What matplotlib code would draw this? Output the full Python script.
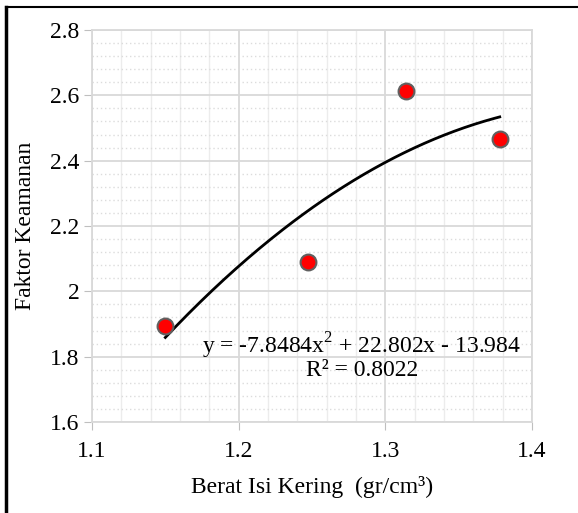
import matplotlib.pyplot as plt
import numpy as np
from matplotlib.lines import Line2D
from matplotlib.ticker import MultipleLocator

plt.rcParams['font.family'] = ['Liberation Serif', 'DejaVu Serif']

# dry unit weight vs safety factor
berat_isi = [1.150, 1.247, 1.314, 1.378]
faktor = [1.895, 2.090, 2.614, 2.466]

# polynomial trendline coefficients (2nd order)
a, b, c = -7.8484, 22.802, -13.984
r2 = 0.8022

fig = plt.figure(figsize=(5.78, 5.13), dpi=100)
ax = fig.add_axes([92 / 578, 1 - 422 / 513, 440 / 578, 392 / 513])

ax.set_xlim(1.1, 1.4)
ax.set_ylim(1.6, 2.8)
ax.xaxis.set_major_locator(MultipleLocator(0.1))
ax.xaxis.set_minor_locator(MultipleLocator(0.02))
ax.yaxis.set_major_locator(MultipleLocator(0.2))
ax.yaxis.set_minor_locator(MultipleLocator(0.04))
ax.set_xticklabels([], minor=True)

ax.grid(which='major', color='#d9d9d9', lw=1.3, zorder=0)
ax.grid(which='minor', axis='x', color='#ececec', lw=1.0, zorder=0)
ax.grid(which='minor', axis='y', color='#dcdcdc', lw=1.0, ls=(0, (1, 2)), zorder=0)
ax.tick_params(which='major', length=6, color='#bfbfbf', labelsize=17, pad=3)
ax.tick_params(axis='x', which='major', pad=8)
ax.tick_params(which='minor', length=0)
for s in ax.spines.values():
    s.set_color('#d9d9d9')
    s.set_linewidth(1.3)
ax.set_yticks([1.6, 1.8, 2.0, 2.2, 2.4, 2.6, 2.8])
ax.set_yticklabels(['1.6', '1.8', '2', '2.2', '2.4', '2.6', '2.8'])

xs = np.linspace(min(berat_isi), max(berat_isi), 200)
ax.plot(xs, a * xs ** 2 + b * xs + c, color='black', lw=2, zorder=3)
ax.scatter(berat_isi, faktor, s=130, color='red', edgecolor='#606060', lw=1.5, zorder=4)

ax.text(1.2835, 1.834, 'y = -7.8484x$^{\\mathregular{2}}$ + 22.802x - 13.984',
        ha='center', va='center', fontsize=17, zorder=5)
ax.text(1.2845, 1.757, 'R² = %.4f' % r2, ha='center', va='center', fontsize=17, zorder=5)

ax.set_xlabel('Berat Isi Kering  (gr/cm³)', fontsize=17, labelpad=10)
ax.set_ylabel('Faktor Keamanan', fontsize=17, labelpad=10)

# chart frame edges
fig.add_artist(Line2D([6 / 578, 6 / 578], [0, 1 - 7 / 513], color='black', lw=2.5,
                      transform=fig.transFigure))
fig.add_artist(Line2D([6 / 578, 1], [1 - 7 / 513, 1 - 7 / 513], color='black', lw=1.5,
                      transform=fig.transFigure))

fig.savefig('out.png', dpi=100)
